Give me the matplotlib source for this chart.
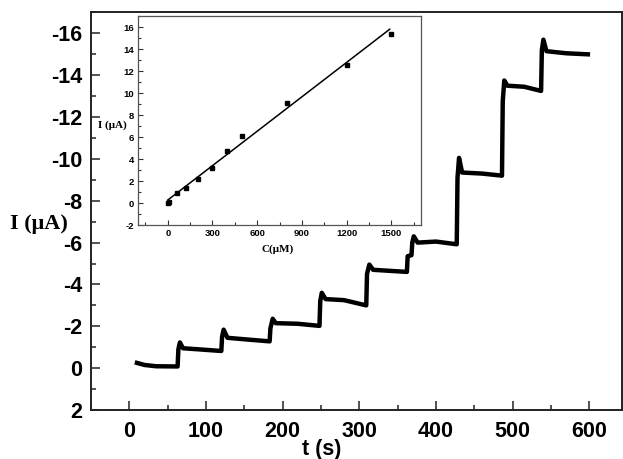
import matplotlib
matplotlib.use('Agg')
import matplotlib.pyplot as plt
from matplotlib.ticker import MultipleLocator

# 마이너스 기호를 하이픈으로
matplotlib.rcParams['axes.unicode_minus'] = False

# 메인 곡선 (i-t 계단 응답), 그림에서 읽은 값
t_s = [10, 20, 35, 63,
       64, 66, 70, 90, 120,
       121, 123, 128, 150, 183,
       184, 187, 191, 220, 248,
       249, 251, 256, 280, 309,
       310, 313, 318, 340, 362,
       363, 368,
       369, 371, 376, 400, 427,
       428, 430, 434, 460, 486,
       487, 489, 493, 515, 537,
       538, 540, 544, 570, 598]
i_uA = [-0.25, -0.15, -0.09, -0.08,
        -0.9, -1.23, -0.95, -0.9, -0.82,
        -1.5, -1.84, -1.45, -1.38, -1.28,
        -1.9, -2.36, -2.15, -2.12, -2.02,
        -3.2, -3.6, -3.3, -3.25, -3.0,
        -4.5, -4.95, -4.7, -4.65, -4.6,
        -5.35, -5.4,
        -6.0, -6.3, -6.0, -6.05, -5.92,
        -9.1, -10.05, -9.35, -9.3, -9.2,
        -12.75, -13.75, -13.5, -13.45, -13.25,
        -15.2, -15.7, -15.15, -15.05, -15.0]

# 인셋 (검량선)
conc = [0, 10, 60, 120, 200, 300, 400, 500, 800, 1200, 1500]
cur = [0.0, 0.1, 0.87, 1.39, 2.17, 3.17, 4.75, 6.05, 9.13, 12.58, 15.33]
fit_c = [0, 1490]
fit_i = [0.27, 15.8]

sans = 'Liberation Sans'
serif = 'Liberation Serif'

fig = plt.figure(figsize=(6.23, 4.59), dpi=100)
ax = fig.add_axes([0.146, 0.1068, 0.853, 0.866])
ax.plot(t_s, i_uA, color='black', lw=3.2, solid_joinstyle='round')
ax.set_xlim(-50, 643)
ax.set_ylim(2, -17)
ax.xaxis.set_major_locator(MultipleLocator(100))
ax.xaxis.set_minor_locator(MultipleLocator(50))
ax.yaxis.set_major_locator(MultipleLocator(2))
ax.yaxis.set_minor_locator(MultipleLocator(1))
ax.tick_params(which='both', direction='in', width=1.1, color='#222222')
ax.tick_params(which='major', length=6.5)
ax.tick_params(which='minor', length=3.5)
ax.tick_params(axis='x', pad=8)
ax.tick_params(axis='y', pad=6)
for lb in ax.get_xticklabels() + ax.get_yticklabels():
    lb.set_fontfamily(sans)
    lb.set_fontweight('bold')
    lb.set_fontsize(15.5)
for sp in ax.spines.values():
    sp.set_linewidth(1.4)
    sp.set_color('#222222')

fig.text(10/623, 1-224/459, 'I (μA)', family=serif, weight='bold', fontsize=16,
         ha='left', va='center')
fig.text(322/623, 1-450/459, 't (s)', family=sans, weight='bold', fontsize=15.5,
         ha='center', va='center')

# 인셋
axi = fig.add_axes([0.2215, 0.5098, 0.4543, 0.4553])
axi.plot(fit_c, fit_i, color='black', lw=1.1)
axi.plot(conc, cur, 's', color='black', ms=3.5)
axi.set_xlim(-200, 1700)
axi.set_ylim(-2, 17)
axi.xaxis.set_major_locator(MultipleLocator(300))
axi.xaxis.set_minor_locator(MultipleLocator(150))
axi.yaxis.set_major_locator(MultipleLocator(2))
axi.yaxis.set_minor_locator(MultipleLocator(1))
axi.tick_params(which='both', direction='in', width=0.8, color='#333333')
axi.tick_params(which='major', length=3.5)
axi.tick_params(which='minor', length=2)
axi.tick_params(axis='x', pad=3)
axi.tick_params(axis='y', pad=3)
for lb in axi.get_xticklabels() + axi.get_yticklabels():
    lb.set_fontfamily(sans)
    lb.set_fontweight('bold')
    lb.set_fontsize(6.8)
for sp in axi.spines.values():
    sp.set_linewidth(0.9)
    sp.set_color('#555555')

fig.text(98/623, 1-125/459, 'I (μA)', family=serif, weight='bold', fontsize=8,
         ha='left', va='center')
fig.text(278/623, 1-249/459, 'C(μM)', family=serif, weight='bold', fontsize=8,
         ha='center', va='center')

fig.savefig('out.png', dpi=100)
